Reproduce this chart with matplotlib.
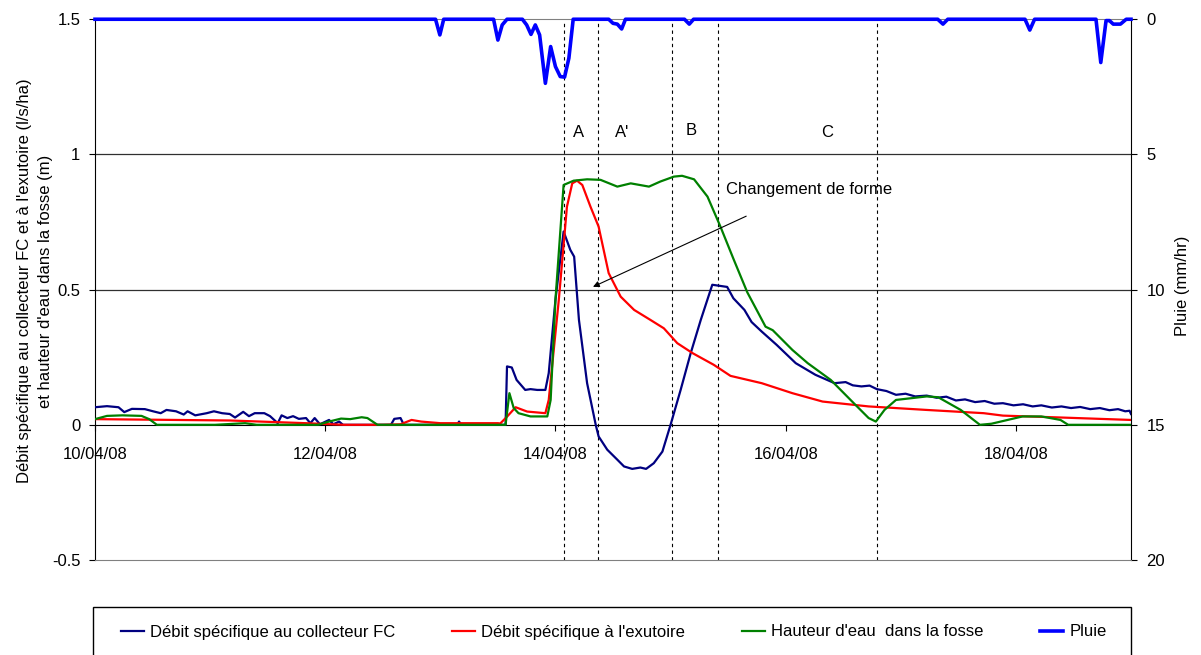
import numpy as np
import matplotlib
matplotlib.use('Agg')
import matplotlib.pyplot as plt
import matplotlib.dates as mdates
from matplotlib import font_manager
from matplotlib.patches import Rectangle
from datetime import datetime

# police étroite si disponible (le graphique d'origine a un texte étroit)
installed = {f.name for f in font_manager.fontManager.ttflist}
if 'Liberation Sans Narrow' in installed:
    FONT, FS = 'Liberation Sans Narrow', 14
else:
    FONT, FS = 'Liberation Sans', 12
plt.rcParams['font.family'] = [FONT, 'DejaVu Sans']
plt.rcParams['font.size'] = FS

# origine du temps : 10/04/08 00:00, temps en heures
t0 = mdates.date2num(datetime(2008, 4, 10))
x_ticks = [datetime(2008, 4, d) for d in (10, 12, 14, 16, 18)]

# Débit spécifique au collecteur FC (l/s/ha)
h_fc = [0, 2.5, 4.9, 6.1, 7.7, 10.4, 12.1, 13.7, 14.9, 16.9, 18.5, 19.3, 20.9, 23.3,
        24.8, 26.5, 28.1, 29.2, 30.9, 32.1, 33.3, 35.3, 36.5, 38.1, 38.9, 40.1, 41.3,
        42.5, 44.0, 44.9, 45.8, 46.9, 48.8, 49.7, 50.9, 51.7, 61.7, 62.4, 63.7, 64.4,
        75.5, 75.9, 76.4, 85.6, 85.9, 86.9, 87.9, 89.7, 90.8, 92.2, 93.9, 94.6, 96.0,
        97.7, 99.1, 99.9, 100.9, 102.6, 104.4, 105.0, 106.8, 108.9, 110.3, 112.0, 113.7,
        114.9, 116.5, 118.3, 120.0, 122.1, 124.2, 126.3, 128.7, 131.8, 133.1, 135.4,
        136.9, 139.0, 142.1, 146.1, 150.2, 154.2, 156.5, 158.0, 159.8, 161.5, 163.0,
        165.0, 167.0, 169.0, 171.0, 173.4, 175.5, 177.5, 179.5, 181.4, 183.5, 185.5,
        187.5, 189.3, 191.5, 193.5, 195.5, 197.3, 199.5, 201.5, 203.5, 205.4, 207.5,
        209.5, 211.5, 213.3, 214.8, 215.7, 216.0]
q_fc = [0.065, 0.069, 0.065, 0.047, 0.059, 0.058, 0.05, 0.043, 0.055, 0.05, 0.038, 0.05, 0.035, 0.043,
        0.05, 0.043, 0.04, 0.027, 0.048, 0.032, 0.043, 0.043, 0.032, 0.006, 0.035, 0.025, 0.032,
        0.022, 0.025, 0.006, 0.025, 0.002, 0.018, 0.002, 0.012, 0.0, 0.0, 0.022, 0.025, 0.0,
        0.0, 0.012, 0.0, 0.0, 0.216, 0.212, 0.166, 0.129, 0.132, 0.129, 0.129, 0.191, 0.462,
        0.715, 0.647, 0.622, 0.388, 0.154, 0.0, -0.043, -0.092, -0.129, -0.154, -0.163, -0.158,
        -0.163, -0.142, -0.099, 0.0, 0.129, 0.265, 0.388, 0.518, 0.51, 0.468, 0.425,
        0.38, 0.345, 0.296, 0.228, 0.185, 0.154, 0.158, 0.146, 0.142, 0.145, 0.132,
        0.125, 0.111, 0.115, 0.105, 0.108, 0.1, 0.104, 0.09, 0.094, 0.084, 0.088,
        0.078, 0.08, 0.072, 0.076, 0.068, 0.072, 0.064, 0.068, 0.062, 0.066, 0.058,
        0.062, 0.054, 0.058, 0.05, 0.052, 0.04]

# Débit spécifique à l'exutoire (l/s/ha)
h_ex = [0, 28.1, 44.0, 52.0, 60.0, 63.7, 66.0, 68.0, 72.0, 84.0, 84.5, 85.9, 87.7, 90.1,
        93.9, 94.6, 95.3, 96.7, 98.4, 99.5, 100.5, 101.6, 103.3, 105.0, 107.1, 109.6,
        112.4, 115.8, 118.6, 121.4, 124.6, 129.0, 132.5, 139.0, 145.4, 151.7, 161.3,
        173.4, 185.3, 189.3, 201.4, 216.0]
q_ex = [0.021, 0.016, 0.006, 0.0, 0.0, 0.002, 0.018, 0.012, 0.006, 0.006, 0.005, 0.03, 0.065, 0.049,
        0.043, 0.092, 0.216, 0.462, 0.807, 0.893, 0.903, 0.887, 0.807, 0.733, 0.561, 0.474,
        0.425, 0.388, 0.357, 0.302, 0.265, 0.222, 0.181, 0.154, 0.117, 0.086, 0.068,
        0.055, 0.043, 0.034, 0.027, 0.018]

# Hauteur d'eau dans la fosse (m)
h_fo = [0, 2.5, 5.7, 9.7, 11.3, 12.9, 25.0, 31.3, 33.7, 46.5, 48.8, 51.3, 53.2, 55.6, 56.8,
        58.9, 85.6, 86.4, 87.3, 88.3, 90.8, 94.3, 95.0, 96.0, 97.7, 99.8, 102.6, 105.4,
        108.9, 111.7, 115.5, 117.9, 120.7, 122.4, 124.9, 127.7, 130.4, 133.2, 136.0,
        138.4, 139.8, 141.3, 145.4, 148.6, 153.4, 158.2, 161.3, 162.8, 164.6, 167.0,
        173.4, 175.8, 180.5, 184.5, 186.9, 193.4, 197.3, 201.3, 202.9, 216.0]
z_fo = [0.021, 0.033, 0.035, 0.033, 0.021, 0.0, 0.0, 0.006, 0.0, 0.0, 0.012, 0.023, 0.021, 0.028, 0.025,
        0.0, 0.0, 0.117, 0.062, 0.043, 0.031, 0.031, 0.092, 0.462, 0.887, 0.903, 0.908, 0.906,
        0.881, 0.893, 0.881, 0.9, 0.918, 0.921, 0.908, 0.844, 0.733, 0.61, 0.49,
        0.41, 0.363, 0.35, 0.277, 0.228, 0.166, 0.08, 0.025, 0.012, 0.055, 0.092,
        0.105, 0.102, 0.055, 0.0, 0.004, 0.031, 0.031, 0.018, 0.0, 0.0]

# Pluie (mm/hr)
h_pl = [0, 71.0, 71.9, 72.7, 83.1, 84.0, 84.9, 85.9, 89.1, 90.0, 90.9, 91.8, 92.7, 93.9,
        95.0, 96.0, 97.0, 97.9, 98.8, 99.7, 107.1, 108.0, 108.9, 109.8, 110.6, 122.9,
        123.9, 124.8, 175.7, 176.8, 177.8, 193.9, 194.9, 195.9, 208.7, 209.7, 210.8,
        211.5, 212.3, 213.8, 215.0, 216.0]
p_pl = [0, 0, 0.58, 0, 0, 0.77, 0.21, 0, 0, 0.21, 0.56, 0.21, 0.58, 2.37,
        1.01, 1.75, 2.12, 2.14, 1.44, 0, 0, 0.15, 0.18, 0.36, 0, 0,
        0.18, 0, 0, 0.18, 0, 0, 0.4, 0, 0, 1.6, 0.05,
        0.05, 0.18, 0.18, 0, 0]

# limites des phases (heures) et étiquettes
h_phases = [97.7, 104.8, 120.2, 129.9, 163.0]
phase_lbl = ['A', "A'", 'B', 'C']
h_lbl = [100.8, 109.9, 124.4, 152.7]
y_lbl = [1.08, 1.08, 1.09, 1.08]


def t(h):
    return t0 + np.asarray(h, dtype=float) / 24.0


W, H = 1201, 655
fig = plt.figure(figsize=(W / 100, H / 100), dpi=100)
ax = fig.add_axes([95 / W, 1 - 560 / H, (1131 - 95) / W, (560 - 19.25) / H])
ax2 = ax.twinx()

ax.set_xlim(t0, t0 + 9)
ax.set_ylim(-0.5, 1.5)
ax2.set_ylim(20, 0)

# quadrillage
for g in (0.5, 1.0):
    ax.axhline(g, color='#303030', lw=0.9, zorder=1)

# limites des phases
ax.vlines(t(h_phases), -0.5, 1.485, colors='black', linestyles=(0, (3, 3)), lw=0.8, zorder=1)
for h, yy, s in zip(h_lbl, y_lbl, phase_lbl):
    ax.text(t(h), yy, s, ha='center', va='center')

l1, = ax.plot(t(h_fc), q_fc, color='#000080', lw=1.6, zorder=3)
l2, = ax.plot(t(h_ex), q_ex, color='#FF0000', lw=1.6, zorder=3)
l3, = ax.plot(t(h_fo), z_fo, color='#008000', lw=1.6, zorder=3)
l4, = ax2.plot(t(h_pl), p_pl, color='#0000FF', lw=2.6, zorder=3, clip_on=False)

ax.text(t(131.5), 0.869, 'Changement de forme', ha='left', va='center')
ax.annotate('', xy=(t(103.3), 0.506), xytext=(t(136.3), 0.776),
            arrowprops=dict(arrowstyle='-|>', color='black', lw=0.8, mutation_scale=9))

# axes
ax.spines['bottom'].set_position(('data', 0))
ax.spines['bottom'].set_color('black')
ax.spines['left'].set_color('black')
ax.spines['top'].set_visible(False)
ax.spines['right'].set_visible(False)
ax2.spines['left'].set_visible(False)
ax2.spines['top'].set_color('#808080')
ax2.spines['bottom'].set_color('#808080')
ax2.spines['right'].set_color('black')

ax.set_xticks(mdates.date2num(x_ticks))
ax.xaxis.set_major_formatter(mdates.DateFormatter('%d/%m/%y'))
ax.tick_params(axis='x', direction='out', length=4, pad=12)
ax.set_yticks([-0.5, 0, 0.5, 1, 1.5])
ax.set_yticklabels(['-0.5', '0', '0.5', '1', '1.5'])
ax.tick_params(axis='y', direction='out', length=4.5, pad=6)
ax2.set_yticks([0, 5, 10, 15, 20])
ax2.tick_params(axis='y', direction='out', length=4, pad=7)

fig.text(35 / W, 1 - 281 / H,
         "Débit spécifique au collecteur FC et à l'exutoire (l/s/ha)\net hauteur d'eau dans la fosse (m)",
         rotation=90, ha='center', va='center', multialignment='center', linespacing=1.45)
fig.text(1182 / W, 1 - 286 / H, 'Pluie (mm/hr)', rotation=90, ha='center', va='center')

# légende
fig.patches.append(Rectangle((93 / W, 1 - 662 / H), (1131 - 93) / W, 55 / H,
                             transform=fig.transFigure, fill=False, edgecolor='black', lw=1))
fig.legend([l1, l2, l3, l4],
           ['Débit spécifique au collecteur FC', "Débit spécifique à l'exutoire",
            "Hauteur d'eau  dans la fosse", 'Pluie'],
           loc='center left', bbox_to_anchor=(121 / W, 1 - 632 / H), ncol=4, frameon=False,
           borderpad=0, borderaxespad=0, handlelength=1.4, handletextpad=0.35,
           columnspacing=3.4)

fig.savefig('out.png', dpi=100)
